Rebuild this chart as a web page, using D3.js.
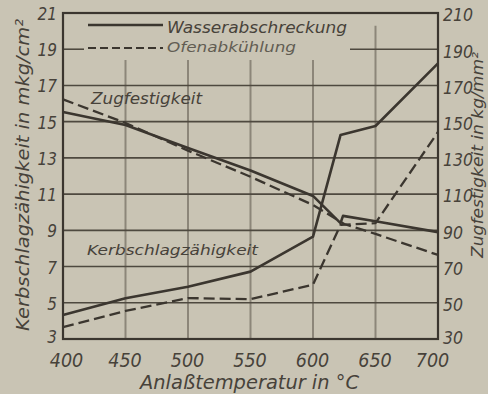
<!DOCTYPE html>
<html><head><meta charset="utf-8">
<script src="https://cdn.jsdelivr.net/npm/d3@7"></script>
<style>
html,body{margin:0;padding:0;background:#c9c4b4;overflow:hidden;}
svg{display:block;}
</style></head>
<body>
<svg id="c" width="488" height="394"></svg>
<script>
// ---- data ----
const tempTicks = [400, 450, 500, 550, 600, 650, 700];
const leftTicks = [3, 5, 7, 9, 11, 13, 15, 17, 19, 21];      // Kerbschlagzähigkeit mkg/cm²
const rightTicks = [30, 50, 70, 90, 110, 130, 150, 170, 190, 210]; // Zugfestigkeit kg/mm²

// Zugfestigkeit (right axis)
const zugWasserT = [400, 450, 500, 550, 600, 622, 624, 650, 700];
const zugWasserV = [155.3, 148.2, 135.5, 123, 109, 94, 98, 95, 89];
const zugOfenT = [400, 450, 500, 550, 600, 625, 650, 700];
const zugOfenV = [162.3, 149.3, 134, 119.6, 104, 93.5, 88, 76.4];

// Kerbschlagzähigkeit (left axis)
const kerbWasserT = [400, 450, 500, 550, 600, 622, 650, 700];
const kerbWasserV = [4.33, 5.25, 5.89, 6.72, 8.65, 14.26, 14.76, 18.22];
const kerbOfenT = [400, 450, 500, 550, 600, 622, 650, 700];
const kerbOfenV = [3.66, 4.55, 5.26, 5.2, 6.0, 9.3, 9.4, 14.43];

const legendLabels = ["Wasserabschreckung", "Ofenabkühlung"];

// ---- drawing ----
const svg = d3.select("#c");
const ink = "#3b362f", textInk = "#47423a";
const L = 63, R = 438, T = 13, B = 339;
const x = d3.scaleLinear().domain([400, 700]).range([L, R]);
const yL = d3.scaleLinear().domain([3, 21]).range([B, T]);
const yR = d3.scaleLinear().domain([30, 210]).range([B, T]);

const grid = svg.append("g");
// vertical gridlines
[450, 500, 550, 600, 650].forEach(t => {
  grid.append("line").attr("x1", x(t)).attr("x2", x(t))
    .attr("y1", t === 650 ? yL(20.3) : yL(18.4)).attr("y2", B)
    .attr("stroke", "#8c8679").attr("stroke-width", 2);
});
// horizontal gridlines
leftTicks.filter(v => v > 3 && v < 21).forEach(v => {
  const segs = v === 19 ? [[L, 84], [350, R]] : [[L, R]];
  segs.forEach(s => grid.append("line").attr("x1", s[0]).attr("x2", s[1])
    .attr("y1", yL(v)).attr("y2", yL(v))
    .attr("stroke", "#4e493f").attr("stroke-width", 1.6));
});
// frame
svg.append("rect").attr("x", L).attr("y", T).attr("width", R - L).attr("height", B - T)
  .attr("fill", "none").attr("stroke", ink).attr("stroke-width", 2.2);

// axes
const fTick = "'DejaVu Sans Condensed','DejaVu Sans',sans-serif";
const axL = svg.append("g").attr("transform", `translate(${L},0)`)
  .call(d3.axisLeft(yL).tickValues(leftTicks).tickSize(0).tickPadding(6).tickFormat(d3.format("d")));
const axR = svg.append("g").attr("transform", `translate(${R},0)`)
  .call(d3.axisRight(yR).tickValues(rightTicks).tickSize(0).tickPadding(5).tickFormat(d3.format("d")));
const axB = svg.append("g").attr("transform", `translate(0,${B})`)
  .call(d3.axisBottom(x).tickValues(tempTicks).tickSize(0).tickPadding(14).tickFormat(d3.format("d")));
[axL, axR, axB].forEach(a => { a.select(".domain").remove(); });
axL.selectAll("text").attr("font-family", fTick).attr("font-size", 17).attr("font-style", "italic")
  .attr("fill", textInk).attr("dy", d => d === 3 ? "0.2em" : "0.38em");
axR.selectAll("text").attr("font-family", fTick).attr("font-size", 17.5).attr("font-style", "italic")
  .attr("fill", textInk).attr("dy", d => d === 30 ? "0.25em" : "0.45em");
axB.selectAll("text").attr("font-family", fTick).attr("font-size", 19.5).attr("font-style", "italic")
  .attr("fill", textInk).attr("dx", d => d === 700 ? "-6" : d === 400 ? "3" : "-1");

// series
const line = (xs, ys, sy) => d3.line().x((d, i) => x(xs[i])).y((d, i) => sy(ys[i]))(ys);
function drawSeries(xs, ys, sy, dashed) {
  svg.append("path").attr("d", line(xs, ys, sy)).attr("fill", "none")
    .attr("stroke", ink).attr("stroke-width", dashed ? 2.3 : 2.6)
    .attr("stroke-linejoin", "round")
    .attr("stroke-dasharray", dashed ? "11,5" : null);
}
drawSeries(zugWasserT, zugWasserV, yR, false);
drawSeries(zugOfenT, zugOfenV, yR, true);
drawSeries(kerbWasserT, kerbWasserV, yL, false);
drawSeries(kerbOfenT, kerbOfenV, yL, true);

// legend
const fText = "'DejaVu Sans Condensed','DejaVu Sans',sans-serif";
svg.append("line").attr("x1", 88).attr("x2", 163).attr("y1", 25).attr("y2", 25)
  .attr("stroke", ink).attr("stroke-width", 2.6);
svg.append("line").attr("x1", 88).attr("x2", 163).attr("y1", 48).attr("y2", 48)
  .attr("stroke", ink).attr("stroke-width", 2.2).attr("stroke-dasharray", "8,4");
svg.append("text").text(legendLabels[0]).attr("x", 167).attr("y", 33)
  .attr("font-family", fText).attr("font-style", "italic").attr("font-size", 15)
  .attr("textLength", 180).attr("lengthAdjust", "spacingAndGlyphs").attr("fill", textInk);
svg.append("text").text(legendLabels[1]).attr("x", 167).attr("y", 52)
  .attr("font-family", fText).attr("font-style", "italic").attr("font-size", 14)
  .attr("textLength", 129).attr("lengthAdjust", "spacingAndGlyphs").attr("fill", "#625d53");

// in-plot labels
svg.append("text").text("Zugfestigkeit").attr("x", 91).attr("y", 104)
  .attr("font-family", fText).attr("font-style", "italic").attr("font-size", 15)
  .attr("textLength", 111).attr("lengthAdjust", "spacingAndGlyphs").attr("fill", textInk);
svg.append("text").text("Kerbschlagzähigkeit").attr("x", 87).attr("y", 255)
  .attr("font-family", fText).attr("font-style", "italic").attr("font-size", 14)
  .attr("textLength", 171).attr("lengthAdjust", "spacingAndGlyphs").attr("fill", textInk);

// axis titles
svg.append("text").text("Anlaßtemperatur in °C").attr("x", 140).attr("y", 389)
  .attr("font-family", fText).attr("font-style", "italic").attr("font-size", 19)
  .attr("textLength", 219).attr("lengthAdjust", "spacingAndGlyphs").attr("fill", textInk);
svg.append("text").text("Kerbschlagzähigkeit in mkg/cm²")
  .attr("transform", "translate(29,331) rotate(-90)")
  .attr("font-family", fText).attr("font-style", "italic").attr("font-size", 18)
  .attr("textLength", 312).attr("lengthAdjust", "spacingAndGlyphs").attr("fill", textInk);
svg.append("text").text("Zugfestigkeit in kg/mm²")
  .attr("transform", "translate(483,258) rotate(-90)")
  .attr("font-family", fText).attr("font-style", "italic").attr("font-size", 15)
  .attr("textLength", 206).attr("lengthAdjust", "spacingAndGlyphs").attr("fill", textInk);
</script>
</body></html>
